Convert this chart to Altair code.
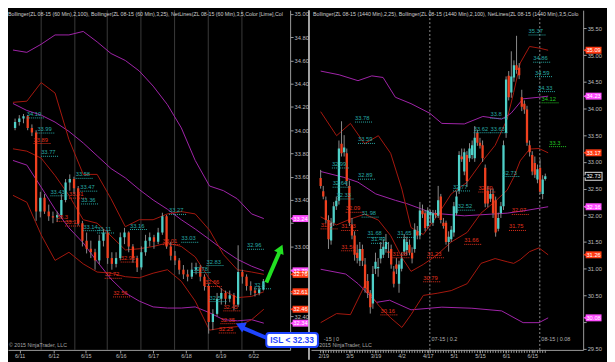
import altair as alt
import pandas as pd

FONT = "Liberation Sans"
W1, W2, H = 284, 274, 342

# ---------------- LEFT PANEL (60 Min) ----------------
L_OPEN = [34.02, 34.07, 34.10, 34.12, 34.02, 33.98, 33.30, 33.42, 33.30, 33.26,
          33.25, 33.27, 33.40, 33.55, 33.58, 33.50, 33.20, 33.05, 32.98, 32.95,
          32.88, 33.05, 33.12, 32.90, 32.85, 32.90, 33.08, 33.12, 33.00, 32.90,
          32.82, 32.95, 33.05, 33.08, 33.04, 33.12, 33.26, 33.00, 32.92, 32.88,
          32.80, 32.76, 32.74, 32.80, 32.82, 32.74, 32.66, 32.35, 32.42, 32.55,
          32.60, 32.55, 32.58, 32.50, 32.78, 32.74, 32.66, 32.62, 32.60, 32.63]
L_HIGH = [34.10, 34.13, 34.14, 34.13, 34.05, 34.00, 33.47, 33.45, 33.36, 33.30,
          33.30, 33.45, 33.58, 33.62, 33.60, 33.52, 33.22, 33.12, 33.05, 32.98,
          33.10, 33.15, 33.14, 32.95, 32.95, 33.12, 33.16, 33.13, 33.02, 32.92,
          33.00, 33.10, 33.12, 33.10, 33.16, 33.29, 33.27, 33.04, 32.96, 32.90,
          32.84, 32.80, 32.86, 32.86, 32.84, 32.76, 32.68, 32.46, 32.60, 32.64,
          32.62, 32.62, 32.60, 33.01, 32.80, 32.76, 32.70, 32.65, 32.66, 32.72]
L_LOW = [34.00, 34.04, 34.06, 34.00, 33.95, 33.22, 33.25, 33.28, 33.22, 33.20,
         33.21, 33.24, 33.38, 33.48, 33.45, 33.18, 33.00, 32.94, 32.90, 32.80,
         32.85, 33.00, 32.85, 32.80, 32.82, 32.88, 33.02, 32.95, 32.86, 32.78,
         32.80, 32.92, 33.00, 32.98, 33.02, 33.10, 32.98, 32.88, 32.84, 32.76,
         32.72, 32.70, 32.72, 32.76, 32.70, 32.62, 32.25, 32.28, 32.40, 32.50,
         32.50, 32.52, 32.45, 32.48, 32.68, 32.62, 32.58, 32.57, 32.58, 32.62]
L_CLOSE = [34.07, 34.10, 34.12, 34.02, 33.98, 33.30, 33.42, 33.30, 33.26, 33.25,
           33.27, 33.40, 33.55, 33.58, 33.50, 33.20, 33.05, 32.98, 32.95, 32.88,
           33.05, 33.12, 32.90, 32.85, 32.90, 33.08, 33.12, 33.00, 32.90, 32.82,
           32.95, 33.05, 33.08, 33.04, 33.12, 33.26, 33.00, 32.92, 32.88, 32.80,
           32.76, 32.74, 32.80, 32.82, 32.74, 32.66, 32.35, 32.42, 32.55, 32.60,
           32.55, 32.58, 32.50, 32.78, 32.74, 32.66, 32.62, 32.60, 32.63, 32.70]

L_BAND_X = [0, 3.3, 6.7, 10, 13.3, 16.7, 20, 23.3, 26.7, 30, 33.3, 36.7, 40, 43.3, 46.7, 50, 53.3, 56.7, 59.6]
L_PURPLE_UP = [34.69, 34.67, 34.74, 34.82, 34.82, 34.85, 34.76, 34.66, 34.60, 34.51, 34.38, 34.22, 34.02, 33.74, 33.52, 33.48, 33.41, 33.28, 33.24]
L_PURPLE_MID = [34.23, 34.17, 34.13, 34.07, 33.99, 33.89, 33.78, 33.67, 33.59, 33.49, 33.40, 33.32, 33.23, 33.15, 33.06, 32.97, 32.89, 32.83, 32.79]
L_PURPLE_LOW = [33.74, 33.70, 33.51, 33.32, 33.16, 33.03, 32.87, 32.72, 32.60, 32.53, 32.48, 32.47, 32.47, 32.48, 32.43, 32.37, 32.36, 32.37, 32.34]
L_RED_UP = [34.24, 34.25, 34.41, 34.32, 33.92, 33.62, 33.62, 33.41, 33.17, 33.23, 33.23, 33.28, 33.30, 33.28, 33.14, 32.93, 32.80, 32.78, 32.76]
L_RED_MID = [33.84, 33.82, 33.76, 33.61, 33.44, 33.23, 33.20, 33.09, 32.97, 32.98, 33.00, 33.03, 33.00, 32.91, 32.72, 32.62, 32.56, 32.57, 32.61]
L_RED_LOW = [33.44, 33.38, 33.10, 32.88, 32.95, 32.85, 32.78, 32.77, 32.74, 32.73, 32.77, 32.80, 32.70, 32.53, 32.28, 32.30, 32.31, 32.37, 32.46]

L_TICK_POS = [1.6, 9.6, 17.3, 25.6, 33.3, 41.1, 49.3, 57.1]
L_TICK_LAB = ["6/11", "6/12", "6/15", "6/16", "6/17", "6/18", "6/19", "6/22"]
L_SESSIONS = [6.7, 14.7, 22.4, 30.4, 38.4, 46.4, 54.4]
L_YTICKS = [32.2, 32.4, 32.6, 32.8, 33.0, 33.2, 33.4, 33.6, 33.8, 34.0, 34.2, 34.4, 34.6, 34.8, 35.0]
L_YTICKS_HIDDEN = [32.2, 32.6, 32.8, 33.2]   # covered by price tags / ISL box in the reference

L_LAB_TEXT = ["34.10", "33.99", "33.89", "33.77", "33.43", "33.58", "33.47", "33.36", "33.41", "33.3",
              "33.12", "33.14", "33.11", "33.16", "33.27", "33.03", "33.01", "32.98", "32.72", "32.56",
              "32.83", "32.78", "32.5", "32.66", "32.96", "32.6", "32.45", "32.35", "32.25"]
L_LAB_X = [3.3, 5.8, 4.9, 6.7, 8.9, 14.9, 16.0, 16.2, 13.3, 10.4,
           12.4, 16.7, 20.0, 27.8, 37.1, 40.0, 35.6, 25.6, 21.8, 23.8,
           46.0, 42.9, 46.7, 45.6, 55.6, 57.3, 50.0, 49.3, 48.9]
L_LAB_P = [34.14, 34.01, 33.92, 33.81, 33.47, 33.62, 33.51, 33.40, 33.45, 33.25,
           33.21, 33.17, 33.15, 33.18, 33.31, 33.07, 33.05, 32.90, 32.76, 32.60,
           32.87, 32.81, 32.56, 32.69, 33.01, 32.67, 32.48, 32.37, 32.29]
L_LAB_KIND = ["up", "up", "dn", "up", "up", "up", "up", "up", "dn", "dn",
              "dn", "up", "up", "up", "up", "up", "dn", "dn", "dn", "dn",
              "up", "up", "up", "dn", "up", "up", "dn", "dn", "dn"]

L_TAG_TEXT = ["33.24", "32.79", "32.76", "32.61", "32.46", "32.34"]
L_TAG_P = [33.24, 32.79, 32.76, 32.61, 32.46, 32.34]
L_TAG_KIND = ["mag", "mag", "red", "red", "red", "mag"]

L_LEGEND = "Bollinger(ZL 08-15 (60 Min),2,100), Bollinger(ZL 08-15 (60 Min),3,25), NetLines(ZL 08-15 (60 Min),3,5,Color [Lime],Color [Dark"

GREEN_ARROW_X = [60.2, 63.3]
GREEN_ARROW_P = [32.69, 32.95]
GREEN_HEAD = (63.6, 32.98)
BLUE_ARROW_X = [60.5, 54.6]
BLUE_ARROW_P = [32.21, 32.30]
BLUE_HEAD = (54.0, 32.32)

# ---------------- RIGHT PANEL (1440 Min) ----------------
R_OPEN = [32.70, 32.45, 32.28, 31.91, 31.53, 31.86, 32.17, 32.27, 33.34, 33.18,
          33.16, 32.55, 31.82, 31.62, 31.30, 31.15, 31.37, 31.08, 30.77, 30.54,
          30.35, 31.00, 31.01, 31.19, 31.26, 31.37, 31.32, 31.37, 30.95, 31.08,
          30.72, 31.00, 31.32, 31.35, 31.45, 31.30, 31.37, 31.70, 31.62, 32.09,
          32.04, 31.80, 32.00, 31.86, 32.04, 31.99, 32.35, 31.86, 31.86, 31.50,
          31.55, 31.68, 32.04, 32.46, 33.10, 32.82, 33.13, 33.07, 33.13, 33.07,
          33.54, 33.36, 33.31, 32.89, 32.46, 32.31, 32.40, 32.28, 31.75, 32.04,
          32.17, 33.54, 34.61, 34.30, 34.58, 34.81, 34.76, 34.21, 34.09, 33.98,
          33.31, 33.13, 32.98, 32.67, 32.89, 32.40, 32.68]
R_HIGH = [32.85, 32.55, 32.35, 32.00, 31.95, 32.25, 32.35, 33.40, 33.76, 33.50,
          33.25, 32.65, 31.95, 31.70, 31.45, 31.50, 31.45, 31.20, 30.90, 30.60,
          31.05, 31.30, 31.20, 31.50, 31.55, 31.65, 31.50, 31.45, 31.05, 31.20,
          31.15, 31.30, 31.65, 31.60, 31.55, 31.40, 31.85, 31.80, 32.25, 32.20,
          32.10, 32.15, 32.10, 32.10, 32.10, 32.55, 32.40, 31.95, 31.90, 31.70,
          31.80, 32.25, 32.45, 33.20, 33.25, 33.25, 33.20, 33.35, 33.40, 33.67,
          33.60, 33.45, 33.40, 32.95, 32.55, 32.50, 32.50, 32.35, 32.05, 32.25,
          33.40, 34.60, 34.70, 35.07, 34.90, 35.36, 34.85, 34.35, 34.15, 34.05,
          33.40, 33.20, 33.10, 32.95, 33.05, 32.75, 32.78]
R_LOW = [32.50, 32.30, 31.85, 31.37, 31.45, 31.80, 32.10, 32.20, 33.10, 33.10,
         32.55, 31.80, 31.55, 31.15, 31.10, 31.05, 31.05, 30.55, 30.45, 30.16,
         30.25, 30.90, 30.85, 31.10, 31.20, 31.30, 31.20, 31.00, 30.65, 30.90,
         30.55, 30.95, 31.25, 31.25, 31.25, 31.10, 31.30, 31.55, 31.55, 31.95,
         31.70, 31.75, 31.85, 31.80, 31.95, 31.95, 31.85, 31.75, 31.45, 31.32,
         31.50, 31.60, 32.00, 32.40, 33.00, 32.75, 32.53, 33.00, 33.05, 33.00,
         33.30, 33.25, 33.00, 32.15, 32.15, 32.25, 31.95, 31.60, 31.70, 31.95,
         32.10, 33.45, 34.15, 34.20, 34.50, 34.65, 34.55, 33.95, 33.90, 33.30,
         33.10, 32.75, 32.70, 32.60, 32.40, 32.30, 32.65]
R_CLOSE = [32.55, 32.35, 31.91, 31.55, 31.86, 32.17, 32.27, 33.25, 33.16, 33.27,
           32.64, 31.86, 31.62, 31.26, 31.20, 31.37, 31.15, 30.64, 30.54, 30.28,
           30.90, 31.13, 31.03, 31.37, 31.41, 31.50, 31.30, 31.08, 30.72, 31.00,
           31.08, 31.19, 31.55, 31.50, 31.30, 31.19, 31.73, 31.62, 32.09, 32.02,
           31.76, 32.09, 32.06, 32.04, 32.00, 32.28, 31.91, 31.80, 31.50, 31.60,
           31.73, 32.17, 32.35, 33.13, 33.05, 33.18, 32.64, 33.25, 33.31, 33.45,
           33.36, 33.30, 33.07, 32.22, 32.22, 32.40, 32.04, 31.68, 31.95, 32.17,
           33.31, 34.54, 34.21, 34.60, 34.81, 34.72, 34.62, 34.03, 33.98, 33.36,
           33.18, 32.82, 32.76, 32.86, 32.44, 32.67, 32.73]

R_PU_X = [0, 7.1, 14.3, 19.6, 23.9, 28.6, 34.6, 41.8, 46.4, 55, 62.1, 69.3, 72.9, 77.5, 83.6, 87.1]
R_PURPLE_UP = [34.70, 34.63, 34.52, 34.61, 34.58, 34.21, 34.09, 33.91, 33.72, 33.71, 33.85, 33.80, 33.91, 34.18, 34.21, 34.23]
R_PM_X = [0, 8.9, 14.3, 21.1, 28.6, 32.9, 42.9, 55, 71.4, 78.6, 87.1]
R_PURPLE_MID = [32.82, 32.71, 32.62, 32.40, 32.28, 32.22, 32.04, 31.99, 32.04, 32.09, 32.16]
R_PL_X = [0, 9.6, 14.3, 21.4, 26.4, 34.6, 46.4, 57.9, 69.3, 77.5, 83.6, 87.1]
R_PURPLE_LOW = [30.99, 30.90, 30.72, 30.37, 30.41, 30.23, 30.28, 30.26, 30.21, 29.99, 29.99, 30.08]
R_RB_X = [0, 6.1, 11.4, 16.8, 22.1, 26.8, 31.1, 34.6, 39.3, 44.6, 50, 56.1, 61.4, 66.8, 71.4, 73.9, 76.4, 80, 83.6, 87.1]
R_RED_UP = [33.94, 33.49, 33.72, 33.34, 33.49, 33.16, 32.49, 31.77, 31.64, 31.99, 32.40, 32.62, 32.98, 33.31, 33.80, 34.30, 34.85, 35.16, 35.13, 35.09]
R_RED_MID = [31.97, 31.82, 31.93, 32.02, 31.91, 31.62, 31.21, 30.95, 31.08, 31.26, 31.50, 31.68, 32.04, 32.26, 32.47, 32.71, 33.02, 33.24, 33.25, 33.17]
R_RED_LOW = [29.99, 30.16, 30.14, 30.68, 30.32, 30.08, 29.90, 30.14, 30.50, 30.54, 30.59, 30.72, 31.10, 31.19, 31.13, 31.10, 31.17, 31.32, 31.39, 31.26]

R_TICK_POS = [1, 11, 21, 31, 41, 51, 61, 71, 81]
R_TICK_LAB = ["2/19", "3/5", "3/19", "4/2", "4/17", "5/1", "5/15", "6/1", "6/15"]
R_YTICKS = [29.5, 30.0, 30.5, 31.0, 31.5, 32.0, 32.5, 33.0, 33.5, 34.0, 34.5, 35.0, 35.5]
R_YTICKS_HIDDEN = [30.0]
R_ROLL_LINES = [41.8, 83.9]
R_ROLL_TEXT = ["-15 | 0", "07-15 | 0.2", "08-15 | 0.08"]
R_ROLL_TEXT_X = [1.2, 42.4, 84.5]

R_LAB_TEXT = ["33.78", "33.59", "32.99", "32.64", "32.89", "32.33", "32.09", "31.98", "31.73", "31.9",
              "31.68", "31.49", "31.65", "31.56", "31.23", "31.28", "30.79", "30.16", "33.62", "33.63",
              "33.8", "32.77", "32.52", "32.49", "32.73", "32.07", "31.75", "31.66", "35.37", "34.86",
              "34.59", "34.33", "34.12", "33.3"]
R_LAB_X = [13.2, 14.3, 4.3, 4.6, 14.3, 6.1, 9.6, 15.7, 7.9, 0.0,
           17.9, 19.3, 29.3, 7.9, 40.7, 27.5, 39.3, 22.9, 58.6, 65.0,
           65.0, 50.7, 52.5, 60.4, 69.6, 73.2, 72.1, 55.0, 79.6, 81.4,
           82.1, 83.2, 84.6, 87.5]
R_LAB_P = [33.82, 33.42, 32.96, 32.60, 32.75, 32.38, 32.13, 32.04, 31.79, 31.82,
           31.66, 31.55, 31.66, 31.41, 31.28, 31.28, 30.83, 30.21, 33.62, 33.62,
           33.89, 32.53, 32.17, 32.51, 32.80, 32.09, 31.79, 31.53, 35.45, 34.94,
           34.67, 34.39, 34.18, 33.36]
R_LAB_KIND = ["up", "up", "up", "up", "up", "up", "dn", "up", "dn", "dn",
              "up", "up", "up", "dn", "dn", "dn", "dn", "dn", "up", "up",
              "up", "up", "up", "dn", "up", "dn", "dn", "dn", "up", "up",
              "up", "up", "lime", "lime"]

R_TAG_TEXT = ["35.09", "34.23", "33.17", "32.73", "32.16", "31.26", "30.08"]
R_TAG_P = [35.09, 34.23, 33.17, 32.73, 32.16, 31.26, 30.08]
R_TAG_KIND = ["red", "mag", "red", "blk", "mag", "red", "mag"]

R_LEGEND = "Bollinger(ZL 08-15 (1440 Min),2,25), Bollinger(ZL 08-15 (1440 Min),2,100), NetLines(ZL 08-15 (1440 Min),3,5,Color [Lime"
COPYRIGHT = "\u00a9 2015 NinjaTrader, LLC"
ISL_TEXT = "ISL < 32.33"

# ---------------- styles ----------------
UP_COL = "#4fd0c8"
DN_COL = "#f0401f"
WICK_COL = "#8a8a8a"
BAND_COL = {"pu": "#a024a8", "pm": "#a024a8", "pl": "#a024a8", "ru": "#a5180e", "rm": "#a5180e", "rl": "#a5180e"}
LAB_COL = {"up": "#27aaa6", "dn": "#e2301c", "lime": "#22c722"}
TAG_FILL = {"mag": "#ff4dff", "red": "#ff3b14", "blk": "#000000"}
TAG_TXT = {"mag": "#ffffff", "red": "#ffffff", "blk": "#ffffff"}
AX_COL = "#bdbdbd"


def yaxis(vals, hidden, ext):
    hide = "[" + ",".join(repr(v) for v in hidden) + "]"
    expr = "indexof(%s, datum.value) >= 0 ? '' : format(datum.value, '.2f')" % hide
    return alt.Axis(orient="right", values=vals, labelExpr=expr, title=None, grid=False,
                    labelColor=AX_COL, labelFontSize=5.8, labelFont=FONT, labelPadding=1,
                    tickColor="#9a9a9a", tickSize=3, domainColor="#9a9a9a",
                    minExtent=ext, maxExtent=ext)


def xaxis(pos, lab):
    expr = "[" + ",".join("'%s'" % s for s in lab) + "][indexof([" + ",".join(repr(p) for p in pos) + "], datum.value)]"
    return alt.Axis(orient="bottom", values=pos, labelExpr=expr, title=None, grid=False,
                    labelColor=AX_COL, labelFontSize=5.5, labelFont=FONT, labelPadding=1,
                    tickColor="#9a9a9a", tickSize=3, domainColor="#9a9a9a",
                    minExtent=10, maxExtent=10, labelOverlap=False)


def build_panel(W, o, h, l, c, xoff, xdom, ydom, band_specs, tick_pos, tick_lab, yticks, yhidden, yext,
                lab_text, lab_x, lab_p, lab_kind, lab_w, tag_text, tag_p, tag_kind, legend, leg_x, leg_limit, copy_x):
    xs = alt.Scale(domain=xdom, nice=False, zero=False)
    ys = alt.Scale(domain=ydom, nice=False, zero=False)
    XA = xaxis(tick_pos, tick_lab)
    YA = yaxis(yticks, yhidden, yext)

    def X(f):
        return alt.X(f, type="quantitative", scale=xs, axis=XA)

    def Y(f):
        return alt.Y(f, type="quantitative", scale=ys, axis=YA)

    cdf = pd.DataFrame({"x": [i + xoff for i in range(len(o))], "o": o, "h": h, "l": l, "c": c})
    cdf["dir"] = ["up" if cc >= oo else "dn" for oo, cc in zip(o, c)]

    rows = []
    for name, xs_list, vals in band_specs:
        for xv, pv in zip(xs_list, vals):
            rows.append({"band": name, "x": xv, "p": pv, "col": BAND_COL[name]})
    bdf = pd.DataFrame(rows)

    ldf = pd.DataFrame({"t": lab_text, "x": lab_x, "p": lab_p, "kind": lab_kind})
    ldf["x2"] = ldf["x"] + lab_w
    ldf["col"] = ldf["kind"].map(LAB_COL)

    tdf = pd.DataFrame({"t": tag_text, "p": tag_p, "kind": tag_kind})
    tdf["fill"] = tdf["kind"].map(TAG_FILL)
    tdf["tc"] = tdf["kind"].map(TAG_TXT)

    bands = alt.Chart(bdf).mark_line(strokeWidth=1, clip=True).encode(
        x=X("x"), y=Y("p"), color=alt.Color("col:N", scale=None), detail="band:N")
    wicks = alt.Chart(cdf).mark_rule(color=WICK_COL, strokeWidth=1, clip=True).encode(
        x=X("x"), y=Y("l"), y2="h")
    up = alt.Chart(cdf).transform_filter(alt.datum.dir == "up").mark_bar(
        size=2.3, color=UP_COL, clip=True).encode(x=X("x"), y=Y("o"), y2="c")
    dn = alt.Chart(cdf).transform_filter(alt.datum.dir == "dn").mark_bar(
        size=2.3, color=DN_COL, clip=True).encode(x=X("x"), y=Y("o"), y2="c")
    under = alt.Chart(ldf).mark_rule(strokeDash=[1, 1], strokeWidth=1, yOffset=4, clip=True).encode(
        x=X("x"), x2="x2", y=Y("p"), color=alt.Color("col:N", scale=None))
    labels = alt.Chart(ldf).mark_text(align="left", baseline="middle", fontSize=5.8, font=FONT, clip=True).encode(
        x=X("x"), y=Y("p"), text="t:N", color=alt.Color("col:N", scale=None))
    leg = alt.Chart(pd.DataFrame({"t": [legend]})).mark_text(
        align="left", baseline="middle", fontSize=5.3, font=FONT, color="#cfcfcf",
        limit=leg_limit, ellipsis=" ").encode(
        x=alt.value(leg_x), y=alt.value(4), text="t:N")
    copy = alt.Chart(pd.DataFrame({"t": [COPYRIGHT]})).mark_text(
        align="left", baseline="middle", fontSize=5.3, font=FONT, color="#a8a8a8").encode(
        x=alt.value(copy_x), y=alt.value(H - 5), text="t:N")

    tag_outline = alt.Chart(tdf).transform_filter(alt.datum.kind == "blk").mark_rule(
        strokeWidth=9, color="#e0e0e0").encode(x=alt.value(W + 1.5), x2=alt.value(W + 19.5), y=Y("p"))
    tag_bar = alt.Chart(tdf).mark_rule(strokeWidth=7).encode(
        x=alt.value(W + 2.5), x2=alt.value(W + 18.5), y=Y("p"), color=alt.Color("fill:N", scale=None))
    tag_notch = alt.Chart(tdf).mark_point(shape="triangle-left", filled=True, size=20, opacity=1).encode(
        x=alt.value(W + 2), y=Y("p"), color=alt.Color("fill:N", scale=None))
    tag_txt = alt.Chart(tdf).mark_text(align="center", baseline="middle", fontSize=5.8, font=FONT).encode(
        x=alt.value(W + 10.5), y=Y("p"), text="t:N", color=alt.Color("tc:N", scale=None))

    return dict(bands=bands, wicks=wicks, up=up, dn=dn, under=under, labels=labels, leg=leg,
                copy=copy, tags=[tag_outline, tag_bar, tag_notch, tag_txt], cdf=cdf, X=X, Y=Y)


# ---------------- LEFT ----------------
L = build_panel(
    W1, L_OPEN, L_HIGH, L_LOW, L_CLOSE, 0.5, [0, 64.67], [32.11, 35.033],
    [("pu", L_BAND_X, L_PURPLE_UP), ("pm", L_BAND_X, L_PURPLE_MID), ("pl", L_BAND_X, L_PURPLE_LOW),
     ("ru", L_BAND_X, L_RED_UP), ("rm", L_BAND_X, L_RED_MID), ("rl", L_BAND_X, L_RED_LOW)],
    L_TICK_POS, L_TICK_LAB, L_YTICKS, L_YTICKS_HIDDEN, 21,
    L_LAB_TEXT, L_LAB_X, L_LAB_P, L_LAB_KIND, 4.2,
    L_TAG_TEXT, L_TAG_P, L_TAG_KIND, L_LEGEND, 0, W1 - 2, 1)

sess = alt.Chart(pd.DataFrame({"x": L_SESSIONS})).mark_rule(color="#3a3a3a", strokeWidth=1).encode(
    x=L["X"]("x"), y=alt.value(0), y2=alt.value(H))

g_df = pd.DataFrame({"x": GREEN_ARROW_X, "p": GREEN_ARROW_P})
g_line = alt.Chart(g_df).mark_line(color="#22e022", strokeWidth=4).encode(x=L["X"]("x"), y=L["Y"]("p"))
g_head = alt.Chart(pd.DataFrame({"x": [GREEN_HEAD[0]], "p": [GREEN_HEAD[1]]})).mark_point(
    shape="triangle-up", filled=True, size=110, angle=24, color="#22e022", opacity=1).encode(
    x=L["X"]("x"), y=L["Y"]("p"))
b_df = pd.DataFrame({"x": BLUE_ARROW_X, "p": BLUE_ARROW_P})
b_line = alt.Chart(b_df).mark_line(color="#1f45ff", strokeWidth=4).encode(x=L["X"]("x"), y=L["Y"]("p"))
b_head = alt.Chart(pd.DataFrame({"x": [BLUE_HEAD[0]], "p": [BLUE_HEAD[1]]})).mark_point(
    shape="triangle-up", filled=True, size=120, angle=295, color="#1f45ff", opacity=1).encode(
    x=L["X"]("x"), y=L["Y"]("p"))

left = alt.layer(
    sess, L["bands"], L["wicks"], L["up"], L["dn"], L["under"], L["labels"], L["leg"], L["copy"],
    g_line, g_head, b_line, b_head, *L["tags"]
).properties(width=W1, height=H)

# ---------------- RIGHT ----------------
R = build_panel(
    W2, R_OPEN, R_HIGH, R_LOW, R_CLOSE, 0, [-1.8, 98.6], [29.48, 35.84],
    [("pu", R_PU_X, R_PURPLE_UP), ("pm", R_PM_X, R_PURPLE_MID), ("pl", R_PL_X, R_PURPLE_LOW),
     ("ru", R_RB_X, R_RED_UP), ("rm", R_RB_X, R_RED_MID), ("rl", R_RB_X, R_RED_LOW)],
    R_TICK_POS, R_TICK_LAB, R_YTICKS, R_YTICKS_HIDDEN, 20,
    R_LAB_TEXT, R_LAB_X, R_LAB_P, R_LAB_KIND, 6.6,
    R_TAG_TEXT, R_TAG_P, R_TAG_KIND, R_LEGEND, 2, W2 - 4, 3)

roll = alt.Chart(pd.DataFrame({"x": R_ROLL_LINES})).mark_rule(
    color="#8a8a8a", strokeWidth=1, strokeDash=[2, 2]).encode(
    x=R["X"]("x"), y=alt.value(0), y2=alt.value(H))
roll_txt = alt.Chart(pd.DataFrame({"x": R_ROLL_TEXT_X, "t": R_ROLL_TEXT})).mark_text(
    align="left", baseline="middle", fontSize=5.5, font=FONT, color="#b0b0b0").encode(
    x=R["X"]("x"), y=alt.value(H - 11), text="t:N")
minor = alt.Chart(R["cdf"]).mark_rule(color="#9a9a9a", strokeWidth=1).encode(
    x=R["X"]("x"), y=alt.value(H), y2=alt.value(H + 3))
sep = alt.Chart(pd.DataFrame({"t": [""]})).mark_rule(color="#d8d8d8", strokeWidth=1.5).encode(
    x=alt.value(-2), y=alt.value(0), y2=alt.value(H + 10))
isl_df = pd.DataFrame({"t": [ISL_TEXT]})
isl_box = alt.Chart(isl_df).mark_rect(
    fill="#ffffff", stroke="#1f45ff", strokeWidth=2, cornerRadius=3).encode(
    x=alt.value(-45), x2=alt.value(7), y=alt.value(325), y2=alt.value(339))
isl_txt = alt.Chart(isl_df).mark_text(
    align="center", baseline="middle", fontSize=8.5, font=FONT, fontWeight="bold", color="#1f45ff").encode(
    x=alt.value(-19), y=alt.value(332.5), text="t:N")

right = alt.layer(
    roll, R["bands"], R["wicks"], R["up"], R["dn"], R["under"], R["labels"], R["leg"], R["copy"],
    roll_txt, minor, sep, isl_box, isl_txt, *R["tags"]
).properties(width=W2, height=H)

chart = alt.hconcat(left, right, spacing=21, bounds="flush").properties(
    background="#000000", padding=0
).configure_view(stroke=None)

chart.save("out.html", embed_options={"renderer": "svg", "actions": False})
